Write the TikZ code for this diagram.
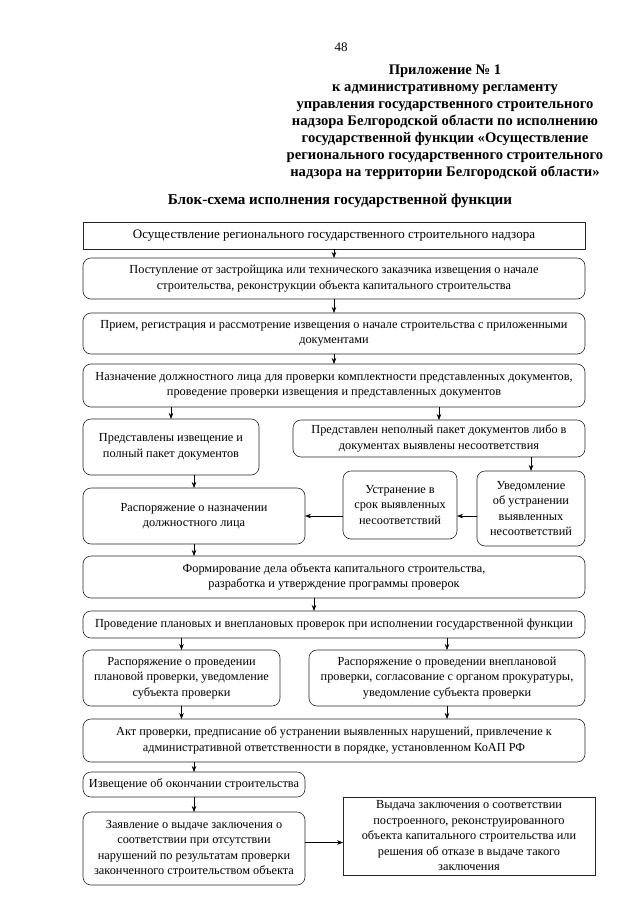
\documentclass[tikz,border=0pt]{standalone}
\usepackage{fontspec}
\setmainfont{Liberation Serif}
\usetikzlibrary{positioning,arrows.meta}

\begin{document}
\begin{tikzpicture}[%
    x=1pt,
    y=-1pt,
    ->,
    >={Stealth[length=6pt,width=4.5pt]},
    line width=0.6pt,
    blok/.style={%
      draw=black!85,
      rounded corners=8pt,
      align=center,
      inner sep=2pt,
      outer sep=0pt,
      font=\fontsize{12.3}{15.5}\selectfont
    },
    ramka/.style={%
      blok,
      rounded corners=0pt
    },
    zag/.style={%
      align=center,
      font=\bfseries\fontsize{14.6}{17}\selectfont
    }
  ]
    \useasboundingbox (0,0) rectangle (640,905);

    \node (nomer) at (341,47) {\fontsize{13}{15}\selectfont 48};
    \node[zag] (prilozh) at (445,122) {Приложение № 1\\к административному регламенту\\управления государственного строительного\\надзора Белгородской области по исполнению\\государственной функции «Осуществление\\регионального государственного строительного\\надзора на территории Белгородской области»};
    \node[zag, font=\bfseries\fontsize{15.1}{17}\selectfont] (zagolovok) at (340,201) {Блок-схема исполнения государственной функции};

    \node[ramka, minimum width=502pt, minimum height=27pt, anchor=north west, font=\fontsize{13}{15.5}\selectfont] (b1) at (83,222) {Осуществление регионального государственного строительного надзора};
    \node[blok, minimum width=502pt, minimum height=41pt] (b2) [below=9pt of b1.south west, anchor=north west] {Поступление от застройщика или технического заказчика извещения о начале\\строительства, реконструкции объекта капитального строительства};
    \node[blok, minimum width=502pt, minimum height=41pt] (b3) [below=14pt of b2.south west, anchor=north west] {Прием, регистрация и рассмотрение извещения о начале строительства с приложенными\\документами};
    \node[blok, minimum width=502pt, minimum height=43pt] (b4) [below=10pt of b3.south west, anchor=north west] {Назначение должностного лица для проверки комплектности представленных документов,\\проведение проверки извещения и представленных документов};
    \node[blok, minimum width=176pt, minimum height=56pt] (b5) [below=12pt of b4.south west, anchor=north west] {Представлены извещение и\\полный пакет документов};
    \node[blok, minimum width=292pt, minimum height=37pt] (b6) [below=13pt of b4.south east, anchor=north east] {Представлен неполный пакет документов либо в\\документах выявлены несоответствия};
    \node[blok, minimum width=108pt, minimum height=75pt] (b8) [below=14pt of b6.south east, anchor=north east] {Уведомление\\об устранении\\выявленных\\несоответствий};
    \node[blok, minimum width=114pt, minimum height=68pt] (b7) [left=20pt of b8.north west, anchor=north east] {Устранение в\\срок выявленных\\несоответствий};
    \node[blok, minimum width=222pt, minimum height=56pt] (b9) [below=13pt of b5.south west, anchor=north west] {Распоряжение о назначении\\должностного лица};
    \node[blok, minimum width=502pt, minimum height=42pt] (b10) [below=12pt of b9.south west, anchor=north west] {Формирование дела объекта капитального строительства,\\разработка и утверждение программы проверок};
    \node[blok, minimum width=502pt, minimum height=27pt] (b11) [below=13pt of b10.south west, anchor=north west] {Проведение плановых и внеплановых проверок при исполнении государственной функции};
    \node[blok, minimum width=197pt, minimum height=56pt] (b12) [below=12pt of b11.south west, anchor=north west] {Распоряжение о проведении\\плановой проверки, уведомление\\субъекта проверки};
    \node[blok, minimum width=276pt, minimum height=56pt] (b13) [below=12pt of b11.south east, anchor=north east] {Распоряжение о проведении внеплановой\\проверки, согласование с органом прокуратуры,\\уведомление субъекта проверки};
    \node[blok, minimum width=502pt, minimum height=43pt] (b14) [below=13pt of b12.south west, anchor=north west] {Акт проверки, предписание об устранении выявленных нарушений, привлечение к\\административной ответственности в порядке, установленном КоАП РФ};
    \node[blok, minimum width=222pt, minimum height=25pt] (b15) [below=10pt of b14.south west, anchor=north west] {Извещение об окончании строительства};
    \node[blok, minimum width=222pt, minimum height=73pt] (b16) [below=15pt of b15.south west, anchor=north west] {Заявление о выдаче заключения о\\соответствии при отсутствии\\нарушений по результатам проверки\\законченного строительством объекта};
    \node[ramka, minimum width=252pt, minimum height=78pt] (b17) [right=38pt of b15.south east, anchor=north west] {Выдача заключения о соответствии\\построенного, реконструированного\\объекта капитального строительства или\\решения об отказе в выдаче такого\\заключения};

    % точки для стрелок не по центру
    \coordinate (s10) at ([xshift=-20pt]b10.south);
    \coordinate (s16) at ([yshift=6pt]b16.east);

    \path (b1) edge (b2)
          (b2) edge (b3)
          (b3) edge (b4)
          (b5 |- b4.south) edge (b5)
          (b6 |- b4.south) edge (b6)
          (b8 |- b6.south) edge (b8)
          (b9 |- b5.south) edge (b9)
          (b8.west |- b9) edge (b7.east |- b9)
          (b7.west |- b9) edge (b9)
          (b9) edge (b9 |- b10.north)
          (s10) edge (s10 |- b11.north)
          (b12 |- b11.south) edge (b12)
          (b13 |- b11.south) edge (b13)
          (b12) edge (b12 |- b14.north)
          (b13) edge (b13 |- b14.north)
          (b15 |- b14.south) edge (b15)
          (b15) edge (b16)
          (s16) edge (s16 -| b17.west)
          ;
  \end{tikzpicture}
\end{document}
